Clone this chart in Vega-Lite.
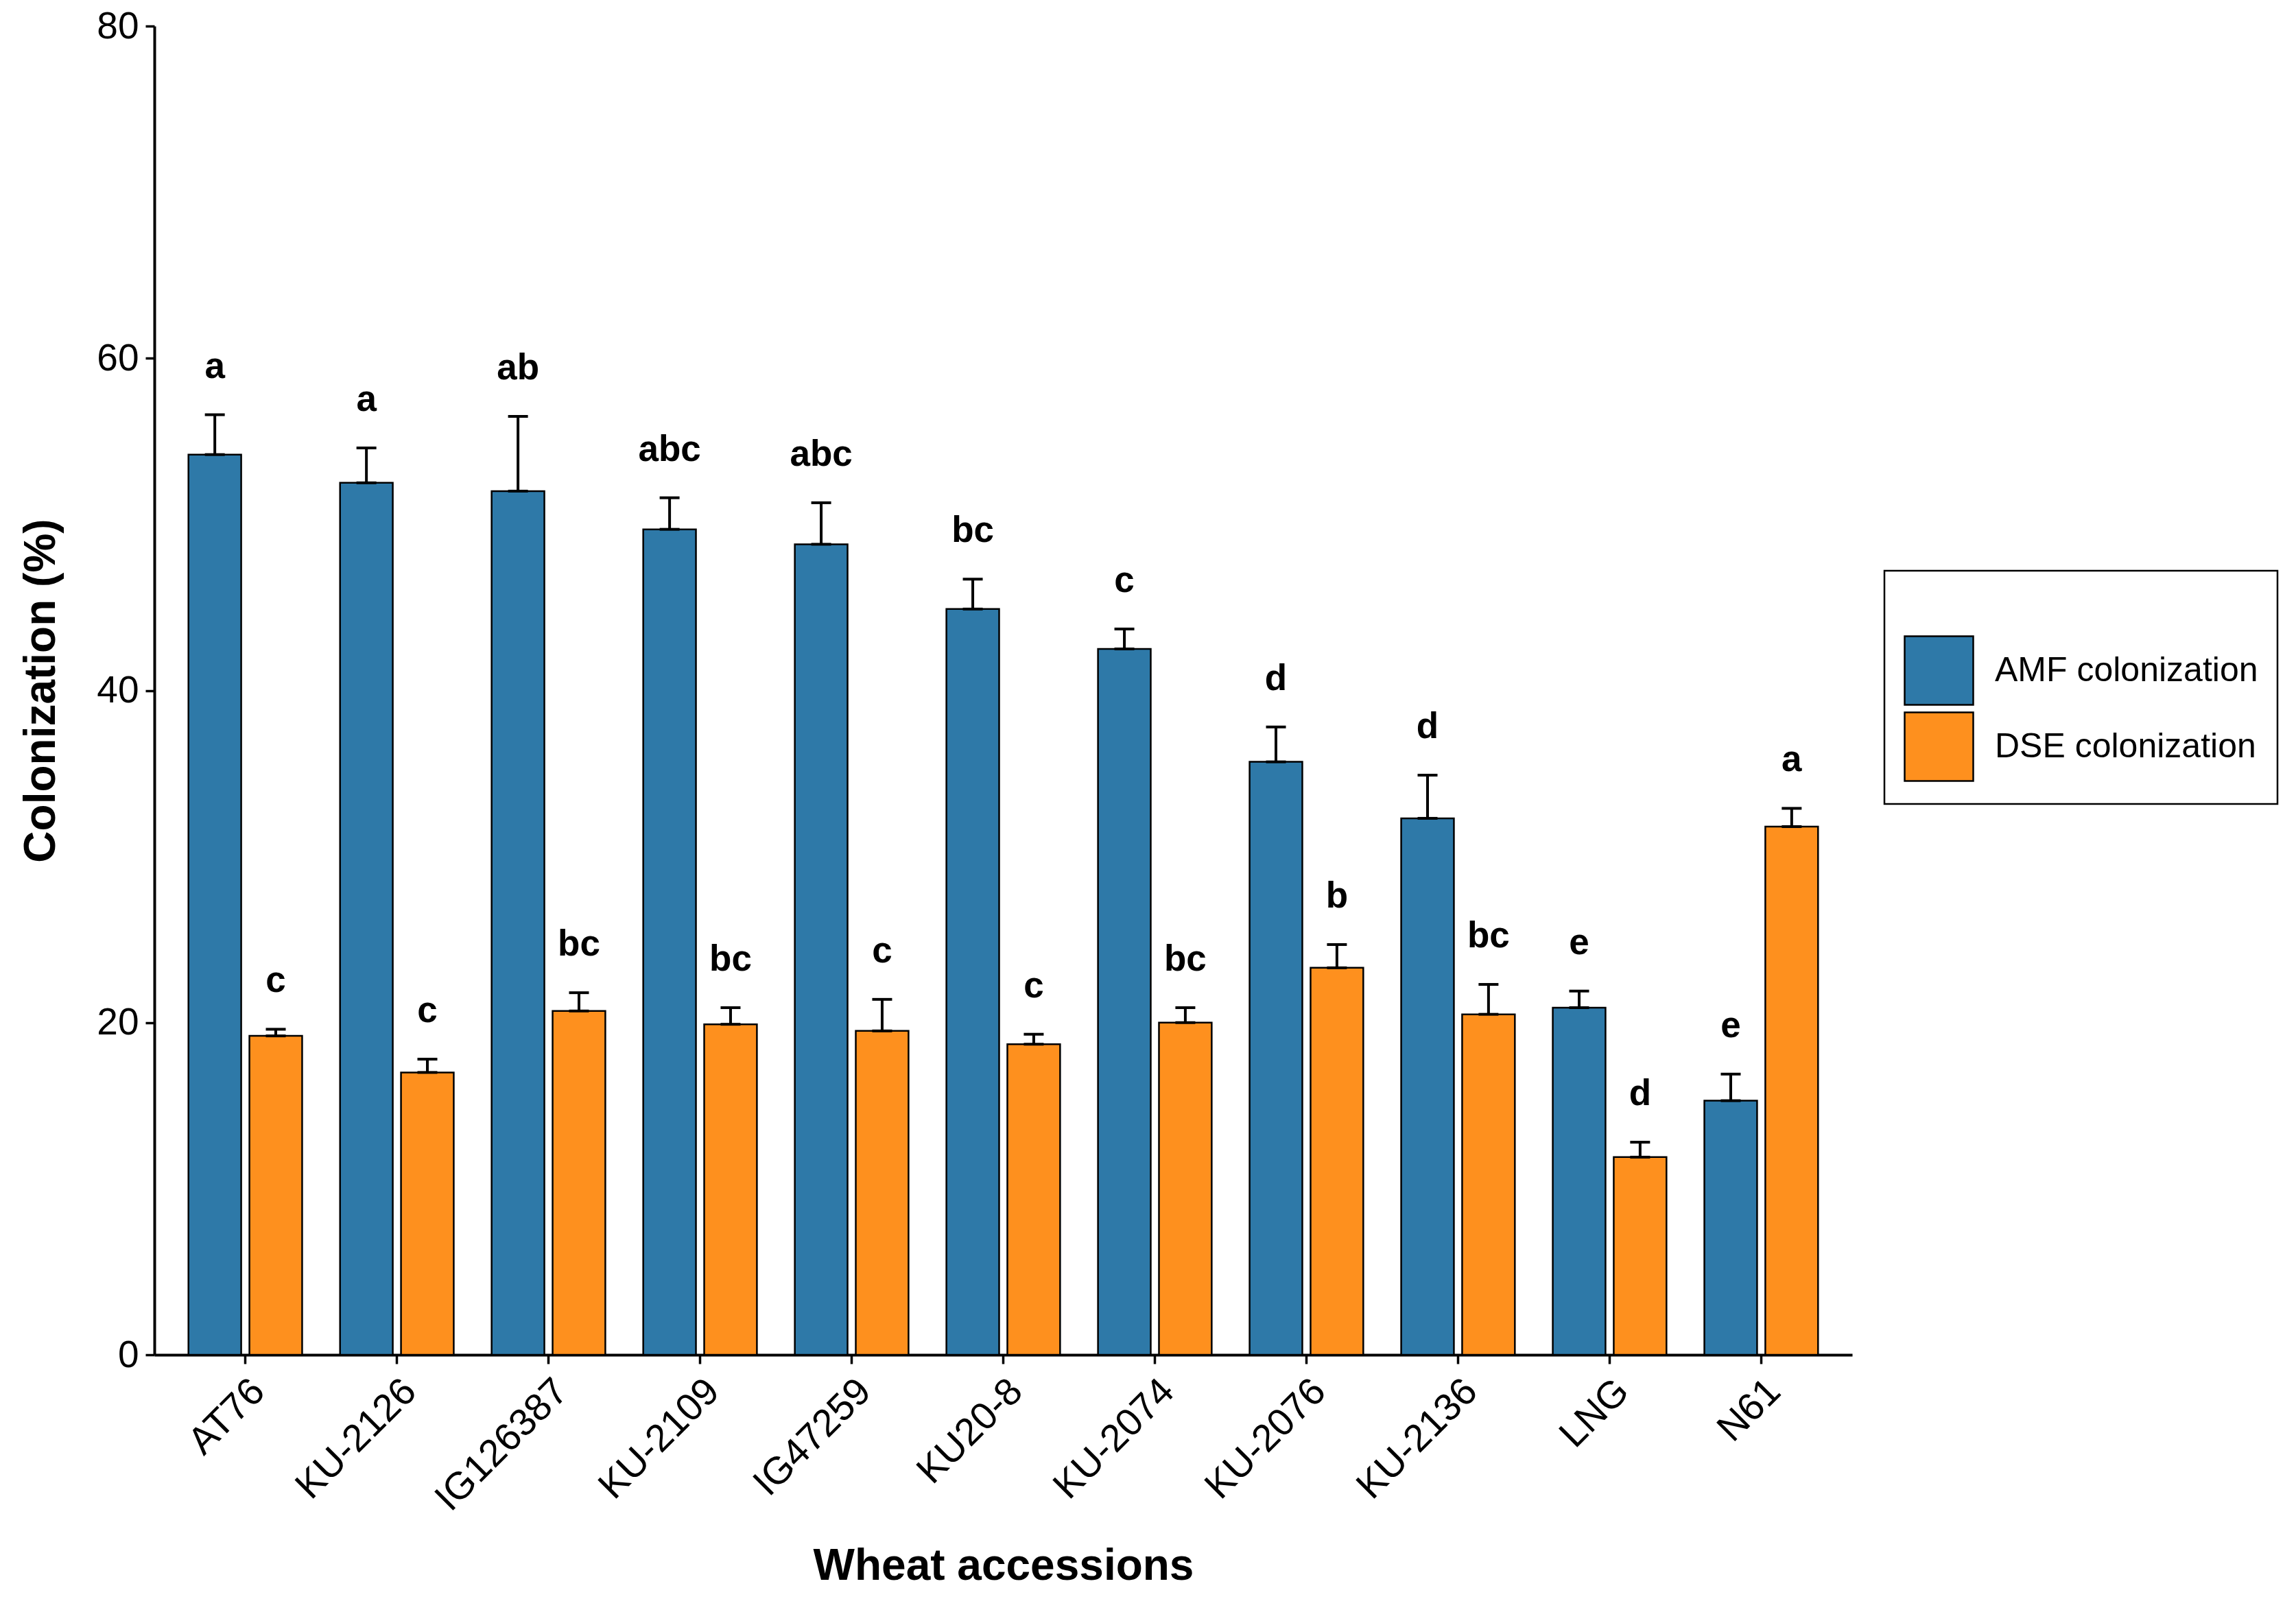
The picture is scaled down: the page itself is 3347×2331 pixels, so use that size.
{
  "$schema": "https://vega.github.io/schema/vega-lite/v6.json",
  "width": 2475,
  "height": 1937,
  "autosize": "none",
  "padding": {"left": 225, "top": 38, "right": 647, "bottom": 356},
  "background": "white",
  "data": {
    "values": [
      {"accession": "AT76", "type": "AMF colonization", "value": 54.2, "upper": 56.6, "letter": "a"},
      {"accession": "AT76", "type": "DSE colonization", "value": 19.2, "upper": 19.6, "letter": "c"},
      {"accession": "KU-2126", "type": "AMF colonization", "value": 52.5, "upper": 54.6, "letter": "a"},
      {"accession": "KU-2126", "type": "DSE colonization", "value": 17.0, "upper": 17.8, "letter": "c"},
      {"accession": "IG126387", "type": "AMF colonization", "value": 52.0, "upper": 56.5, "letter": "ab"},
      {"accession": "IG126387", "type": "DSE colonization", "value": 20.7, "upper": 21.8, "letter": "bc"},
      {"accession": "KU-2109", "type": "AMF colonization", "value": 49.7, "upper": 51.6, "letter": "abc"},
      {"accession": "KU-2109", "type": "DSE colonization", "value": 19.9, "upper": 20.9, "letter": "bc"},
      {"accession": "IG47259", "type": "AMF colonization", "value": 48.8, "upper": 51.3, "letter": "abc"},
      {"accession": "IG47259", "type": "DSE colonization", "value": 19.5, "upper": 21.4, "letter": "c"},
      {"accession": "KU20-8", "type": "AMF colonization", "value": 44.9, "upper": 46.7, "letter": "bc"},
      {"accession": "KU20-8", "type": "DSE colonization", "value": 18.7, "upper": 19.3, "letter": "c"},
      {"accession": "KU-2074", "type": "AMF colonization", "value": 42.5, "upper": 43.7, "letter": "c"},
      {"accession": "KU-2074", "type": "DSE colonization", "value": 20.0, "upper": 20.9, "letter": "bc"},
      {"accession": "KU-2076", "type": "AMF colonization", "value": 35.7, "upper": 37.8, "letter": "d"},
      {"accession": "KU-2076", "type": "DSE colonization", "value": 23.3, "upper": 24.7, "letter": "b"},
      {"accession": "KU-2136", "type": "AMF colonization", "value": 32.3, "upper": 34.9, "letter": "d"},
      {"accession": "KU-2136", "type": "DSE colonization", "value": 20.5, "upper": 22.3, "letter": "bc"},
      {"accession": "LNG", "type": "AMF colonization", "value": 20.9, "upper": 21.9, "letter": "e"},
      {"accession": "LNG", "type": "DSE colonization", "value": 11.9, "upper": 12.8, "letter": "d"},
      {"accession": "N61", "type": "AMF colonization", "value": 15.3, "upper": 16.9, "letter": "e"},
      {"accession": "N61", "type": "DSE colonization", "value": 31.8, "upper": 32.9, "letter": "a"}
    ]
  },
  "encoding": {
    "x": {
      "field": "accession",
      "type": "nominal",
      "sort": null,
      "title": "Wheat accessions",
      "scale": {"paddingInner": 0.25, "paddingOuter": 0.225},
      "axis": {
        "labelAngle": -45,
        "labelAlign": "right",
        "labelBaseline": "top",
        "labelFontSize": 56,
        "labelPadding": 12,
        "labelLimit": 0,
        "tickSize": 13,
        "tickWidth": 3.5,
        "titleY": 308,
        "titleBaseline": "middle"
      }
    },
    "xOffset": {
      "field": "type",
      "type": "nominal",
      "sort": ["AMF colonization", "DSE colonization"],
      "scale": {"paddingInner": 0.135}
    }
  },
  "layer": [
    {
      "mark": {"type": "bar", "stroke": "black", "strokeWidth": 2.5},
      "encoding": {
        "y": {
          "field": "value",
          "type": "quantitative",
          "title": "Colonization (%)",
          "scale": {"domain": [0, 80], "nice": false},
          "axis": {"values": [0, 20, 40, 60, 80], "labelFontSize": 55, "labelPadding": 10, "tickSize": 13, "tickWidth": 3.5, "titlePadding": 48}
        },
        "color": {
          "field": "type",
          "type": "nominal",
          "scale": {"domain": ["AMF colonization", "DSE colonization"], "range": ["#2E79A8", "#FE901E"]},
          "legend": {
            "title": " ",
            "orient": "none",
            "legendX": 2522,
            "legendY": 794
          }
        }
      }
    },
    {
      "mark": {"type": "rule", "color": "black", "strokeWidth": 4},
      "encoding": {
        "y": {"field": "value", "type": "quantitative", "title": "Colonization (%)"},
        "y2": {"field": "upper"}
      }
    },
    {
      "mark": {"type": "tick", "orient": "horizontal", "color": "black", "size": 29, "thickness": 4, "opacity": 1},
      "encoding": {"y": {"field": "upper", "type": "quantitative", "title": "Colonization (%)"}}
    },
    {
      "mark": {"type": "tick", "orient": "horizontal", "color": "black", "size": 29, "thickness": 4, "opacity": 1},
      "encoding": {"y": {"field": "value", "type": "quantitative", "title": "Colonization (%)"}}
    },
    {
      "mark": {"type": "text", "fontSize": 53, "fontWeight": "bold", "baseline": "alphabetic", "dy": -54, "color": "black"},
      "encoding": {
        "y": {"field": "upper", "type": "quantitative", "title": "Colonization (%)"},
        "text": {"field": "letter"}
      }
    }
  ],
  "config": {
    "font": "Liberation Sans",
    "view": {"stroke": null},
    "axis": {
      "grid": false,
      "domainColor": "black",
      "domainWidth": 4,
      "tickColor": "black",
      "labelColor": "black",
      "labelFont": "Liberation Sans",
      "titleFont": "Liberation Sans",
      "titleColor": "black",
      "titleFontSize": 64,
      "titleFontWeight": "bold"
    },
    "legend": {
      "symbolType": "square",
      "symbolSize": 10000,
      "symbolStrokeColor": "black",
      "symbolStrokeWidth": 2.5,
      "symbolOpacity": 1,
      "labelFontSize": 50,
      "labelColor": "black",
      "labelFont": "Liberation Sans",
      "labelLimit": 0,
      "labelOffset": 30,
      "rowPadding": 0,
      "padding": 28,
      "strokeColor": "black",
      "strokeWidth": 2.5,
      "titleFontSize": 50,
      "titlePadding": 16
    }
  }
}
